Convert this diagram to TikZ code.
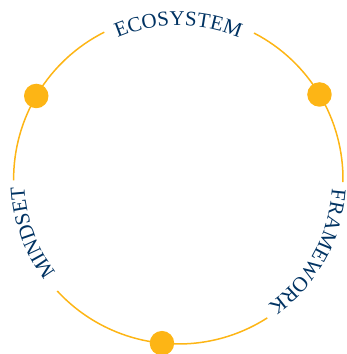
\documentclass[tikz,border=0pt]{standalone}
\usepackage{fontspec}
\setmainfont{Liberation Serif}
\usetikzlibrary{decorations.text}
\definecolor{gold}{HTML}{FDB515}
\definecolor{navy}{HTML}{003262}
\newcommand{\ringfont}{\fontsize{21}{23}\selectfont}
\tikzset{
  ring/.style={draw=gold, line width=1.5pt},
  dot/.style={circle, fill=gold, minimum size=24.5pt, inner sep=0pt},
  ringlabel/.style={decorate, decoration={text along path,
    text={|\ringfont|#1}, text align=center, text color=navy}}
}
\begin{document}
\begin{tikzpicture}
\useasboundingbox (0,0) rectangle (347pt,354pt);
\coordinate (centre) at (178.3pt,174.7pt);
% the ring, broken where the labels sit
\draw[ring] (centre) ++(116.7:164.7pt) arc[start angle=116.7, end angle=180.4, radius=164.7pt];
\draw[ring] (centre) ++(222.7:164.7pt) arc[start angle=222.7, end angle=302.7, radius=164.7pt];
\draw[ring] (centre) ++(-1:164.7pt) arc[start angle=-1, end angle=62.6, radius=164.7pt];
% dots on the ring
\node[dot] (dotleft) at ([shift={(149.6:164.7pt)}]centre) {};
\node[dot] (dotright) at ([shift={(31:164.7pt)}]centre) {};
\node[dot] (dotbottom) at ([shift={(264.3:164.7pt)}]centre) {};
% labels
\path[ringlabel={ECOSYSTEM}] (centre) ++(118:154pt) arc[start angle=118, end angle=62, radius=154pt];
\path[ringlabel={FRAMEWORK}] (centre) ++(-2:154pt) arc[start angle=-2, end angle=-56, radius=154pt];
\path[ringlabel={MINDSET}] (centre) ++(222:154pt) arc[start angle=222, end angle=178, radius=154pt];
\end{tikzpicture}
\end{document}
